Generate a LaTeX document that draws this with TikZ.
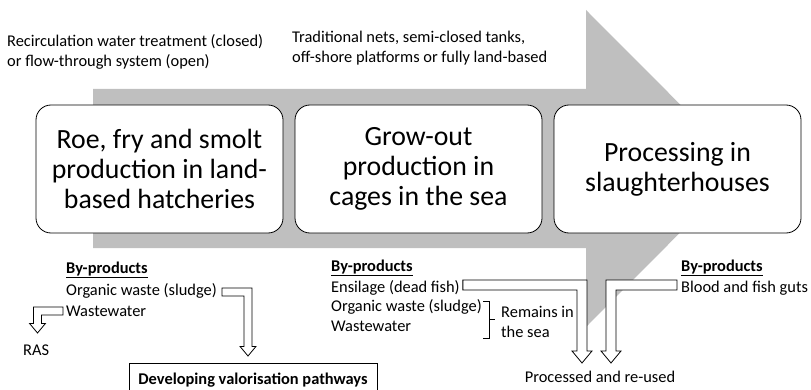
\documentclass[tikz,border=0pt]{standalone}
\usepackage{fontspec}
\setmainfont{Carlito}
\usetikzlibrary{calc}
\definecolor{flowgray}{HTML}{BFBFBF}
\tikzset{
  stage/.style = {draw, fill=white, rounded corners=15pt, line width=0.8pt,
    minimum width=247pt, minimum height=128pt, inner sep=0pt, align=center,
    font=\fontsize{27.8}{30}\selectfont},
  note/.style = {anchor=west, inner sep=0pt, align=left,
    font=\fontsize{16.4}{20}\selectfont},
  hollow/.style = {draw, fill=white, line width=0.8pt, line join=miter}
}
% hollow bent arrow: start, tip, turn (1 right / -1 left), half shaft, half head
\newcommand\hollowarrow[5]{%
  \draw[hollow] let \p1=(#1), \p2=(#2) in
    (\x1,{\y1+#4}) -- ({\x2+(#3)*#4},{\y1+#4}) -- ({\x2+(#3)*#4},{\y2+1.2*#5})
    -- ({\x2+(#3)*#5},{\y2+1.2*#5}) -- (\x2,\y2) -- ({\x2-(#3)*#5},{\y2+1.2*#5})
    -- ({\x2-(#3)*#4},{\y2+1.2*#5}) -- ({\x2-(#3)*#4},{\y1-#4}) -- (\x1,{\y1-#4}) -- cycle;}
\begin{document}
\begin{tikzpicture}[x=1pt, y=-1pt]
  \useasboundingbox (0,0) rectangle (811,390);

  % big process arrow
  \fill[flowgray] (93,89) -- (586,89) -- (586,10) -- (744,168.5)
    -- (586,327) -- (586,248) -- (93,248) -- cycle;

  \node[note] (closed) at (7,52) {Recirculation water treatment (closed)\\or flow-through system (open)};
  \node[note] (nets) at (292,48.5) {Traditional nets, semi-closed tanks,\\off-shore platforms or fully land-based};

  \node[stage] (hatch) at (159.5,169) {Roe, fry and smolt\\production in land-\\based hatcheries};
  \node[stage] (grow) at (418.5,169) {Grow-out\\production in\\cages in the sea};
  \node[stage] (slaughter) at (677.5,169) {Processing in\\slaughterhouses};

  % by-products of the hatcheries
  \node[note] (lbp) at (66,270) {\underline{\textbf{By-products}}};
  \node[note] (lorg) at (66,291) {Organic waste (sludge)};
  \node[note] (lwaste) at (66,311) {Wastewater};
  \node[note] (ras) at (23,350) {RAS};
  \node (valor) [inner sep=0pt, font=\fontsize{16.4}{20}\selectfont\bfseries] at (253,380) {Developing valorisation pathways};
  \draw[line width=0.8pt] (129,392) |- (377,363) -- (377,392);

  \coordinate (lorgS) at ($(lorg.east)+(5,1)$);
  \coordinate (lorgT) at (248,356);
  \coordinate (lwasteS) at ($(lwaste.west)+(-3,0)$);
  \coordinate (lwasteT) at (37.5,333);
  \hollowarrow{lorgS}{lorgT}{1}{4pt}{8pt}
  \hollowarrow{lwasteS}{lwasteT}{-1}{4pt}{8pt}

  % by-products of the grow-out
  \node[note] (mbp) at (331,268) {\underline{\textbf{By-products}}};
  \node[note] (mens) at (331,288) {Ensilage (dead fish)};
  \node[note] (morg) at (331,307) {Organic waste (sludge)};
  \node[note] (mwaste) at (331,326) {Wastewater};
  \draw[line width=0.8pt] (483,301) -- (489,301) -- (489,338) -- (483,338)
    (489,319.5) -- (495,319.5);
  \node[note] (sea) at (501,322) {Remains in\\the sea};

  % by-products of the slaughterhouses
  \node[note] (rbp) at (681,268) {\underline{\textbf{By-products}}};
  \node[note] (rblood) at (681,288) {Blood and fish guts};
  \node (reuse) [inner sep=0pt, font=\fontsize{16.4}{20}\selectfont] at (600,377) {Processed and re-used};

  \coordinate (mensS) at ($(mens.east)+(3,-3)$);
  \coordinate (mensT) at (582,363);
  \coordinate (rbloodS) at ($(rblood.west)+(-4,-3)$);
  \coordinate (rbloodT) at (611,363);
  \hollowarrow{mensS}{mensT}{1}{5pt}{10pt}
  \hollowarrow{rbloodS}{rbloodT}{-1}{5pt}{10pt}
\end{tikzpicture}
\end{document}
